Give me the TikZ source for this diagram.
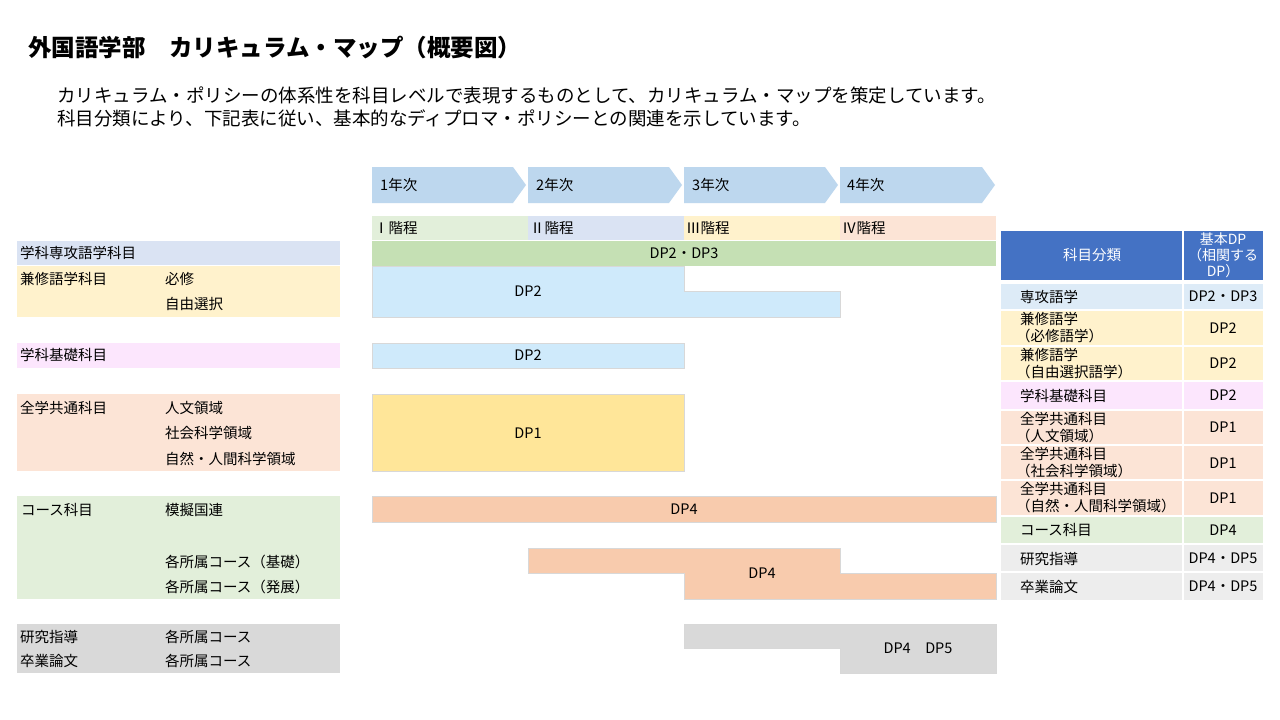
\documentclass[tikz,border=0pt]{standalone}
\usepackage{fontspec}
\setmainfont{Noto Sans CJK JP}
\newcommand\myfs[2]{\fontsize{#1}{#2}\selectfont}
\definecolor{yearblue}{HTML}{BDD7EE}
\definecolor{stI}{HTML}{E2EFDA}
\definecolor{stII}{HTML}{DAE3F3}
\definecolor{stIII}{HTML}{FFF2CC}
\definecolor{stIV}{HTML}{FCE4D6}
\definecolor{dpgreen}{HTML}{C5E0B4}
\definecolor{pinkrow}{HTML}{FCE6FD}
\definecolor{grayrow}{HTML}{D9D9D9}
\definecolor{dpblue}{HTML}{CFEAFB}
\definecolor{dpyellow}{HTML}{FFE699}
\definecolor{dporange}{HTML}{F8CBAD}
\definecolor{hdrblue}{HTML}{4472C4}
\definecolor{rowblue}{HTML}{DDEBF7}
\definecolor{rowgray}{HTML}{EDEDED}
\definecolor{barline}{HTML}{D8D8D8}
\begin{document}
\begin{tikzpicture}[x=1pt,y=-1pt,
  txt/.style={inner sep=0pt, font=\myfs{14.5}{17}},
  lt/.style={txt, anchor=west},
  bar/.style={draw=barline, line width=0.6pt},
  cellb/.style={draw=white, line width=1.5pt},
  yeararrow/.style={fill=yearblue},
  ]
\useasboundingbox[fill=white] (0,0) rectangle (1280,720);

% title and description
\node[anchor=west, inner sep=0pt, font=\myfs{23.5}{28}\bfseries] (title) at (28,48) {外国語学部　カリキュラム・マップ（概要図）};
\node[anchor=west, inner sep=0pt, font=\myfs{18.5}{23}] (desc1) at (57,95) {カリキュラム・ポリシーの体系性を科目レベルで表現するものとして、カリキュラム・マップを策定しています。};
\node[anchor=west, inner sep=0pt, font=\myfs{18.5}{23}] (desc2) at (57,118) {科目分類により、下記表に従い、基本的なディプロマ・ポリシーとの関連を示しています。};

% year arrows
\fill[yeararrow] (372,167) -- (513,167) -- (526,185) -- (513,203) -- (372,203) -- cycle;
\fill[yeararrow] (528,167) -- (669,167) -- (682,185) -- (669,203) -- (528,203) -- cycle;
\fill[yeararrow] (684,167) -- (825,167) -- (838,185) -- (825,203) -- (684,203) -- cycle;
\fill[yeararrow] (840,167) -- (982,167) -- (995,185) -- (982,203) -- (840,203) -- cycle;
\node[lt] (y1) at (380,185) {1年次};
\node[lt] (y2) at (536,185) {2年次};
\node[lt] (y3) at (692,185) {3年次};
\node[lt] (y4) at (847,185) {4年次};

% stages
\fill[stI] (372,216) rectangle (528,240);
\fill[stII] (528,216) rectangle (684,240);
\fill[stIII] (684,216) rectangle (840,240);
\fill[stIV] (840,216) rectangle (996,240);
\node[lt] (s1) at (374,228) {Ⅰ階程};
\node[lt] (s2) at (530,228) {Ⅱ階程};
\node[lt] (s3) at (686,228) {Ⅲ階程};
\node[lt] (s4) at (842,228) {Ⅳ階程};

% left table
\fill[stII] (17,241) rectangle (340,265);
\node[lt] (l1) at (20,253) {学科専攻語学科目};
\fill[stIII] (17,266) rectangle (340,317);
\node[lt] (l2) at (20,279) {兼修語学科目};
\node[lt] (l2a) at (165,279) {必修};
\node[lt] (l2b) at (165,304) {自由選択};
\fill[pinkrow] (17,343) rectangle (340,368);
\node[lt] (l3) at (20,355) {学科基礎科目};
\fill[stIV] (17,394) rectangle (340,471);
\node[lt] (l4) at (20,408) {全学共通科目};
\node[lt] (l4a) at (165,408) {人文領域};
\node[lt] (l4b) at (165,433) {社会科学領域};
\node[lt] (l4c) at (165,459) {自然・人間科学領域};
\fill[stI] (17,496) rectangle (340,599);
\node[lt] (l5) at (21,510) {コース科目};
\node[lt] (l5a) at (165,510) {模擬国連};
\node[lt] (l5b) at (165,562) {各所属コース（基礎）};
\node[lt] (l5c) at (165,587) {各所属コース（発展）};
\fill[grayrow] (17,624) rectangle (340,673);
\node[lt] (l6) at (20,637) {研究指導};
\node[lt] (l6a) at (165,637) {各所属コース};
\node[lt] (l7) at (20,661) {卒業論文};
\node[lt] (l7a) at (165,661) {各所属コース};

% middle bars
\filldraw[fill=dpgreen, draw=none] (372,241) rectangle (996,266);
\node[txt] (b1) at (684,253) {DP2・DP3};
\filldraw[bar, fill=dpblue] (372,266) -- (684,266) -- (684,291) -- (840,291) -- (840,317) -- (372,317) -- cycle;
\node[txt] (b2) at (528,291) {DP2};
\filldraw[bar, fill=dpblue] (372,343) rectangle (684,368);
\node[txt] (b3) at (528,355) {DP2};
\filldraw[bar, fill=dpyellow] (372,394) rectangle (684,471);
\node[txt] (b4) at (528,433) {DP1};
\filldraw[bar, fill=dporange] (372,496) rectangle (996,522);
\node[txt] (b5) at (684,509) {DP4};
\filldraw[bar, fill=dporange] (528,548) -- (840,548) -- (840,573) -- (996,573) -- (996,599) -- (684,599) -- (684,573) -- (528,573) -- cycle;
\node[txt] (b6) at (762,573) {DP4};
\filldraw[bar, fill=grayrow] (684,624) -- (996,624) -- (996,673) -- (840,673) -- (840,648) -- (684,648) -- cycle;
\node[txt] (b7) at (918,648) {DP4　DP5};

% right table
\filldraw[cellb, fill=hdrblue] (1000,230) rectangle (1183,281);
\filldraw[cellb, fill=hdrblue] (1183,230) rectangle (1264,281);
\node[txt, text=white] (h1) at (1092,255) {科目分類};
\node[txt, text=white, align=center, font=\myfs{14}{16}] (h2) at (1223,255) {基本DP\\（相関する\\DP）};

\filldraw[cellb, fill=rowblue] (1000,283) rectangle (1183,310);
\filldraw[cellb, fill=rowblue] (1183,283) rectangle (1264,310);
\node[lt] (r1) at (1020,296.5) {専攻語学};
\node[txt] (r1d) at (1223,296.5) {DP2・DP3};

\filldraw[cellb, fill=stIII] (1000,310) rectangle (1183,346);
\filldraw[cellb, fill=stIII] (1183,310) rectangle (1264,346);
\node[lt, align=left] (r2) at (1016,328) {\hspace*{4pt}兼修語学\\（必修語学）};
\node[txt] (r2d) at (1223,328) {DP2};

\filldraw[cellb, fill=stIII] (1000,346) rectangle (1183,381);
\filldraw[cellb, fill=stIII] (1183,346) rectangle (1264,381);
\node[lt, align=left] (r3) at (1016,363.5) {\hspace*{4pt}兼修語学\\（自由選択語学）};
\node[txt] (r3d) at (1223,363.5) {DP2};

\filldraw[cellb, fill=pinkrow] (1000,381) rectangle (1183,410);
\filldraw[cellb, fill=pinkrow] (1183,381) rectangle (1264,410);
\node[lt] (r4) at (1020,395.5) {学科基礎科目};
\node[txt] (r4d) at (1223,395.5) {DP2};

\filldraw[cellb, fill=stIV] (1000,410) rectangle (1183,445);
\filldraw[cellb, fill=stIV] (1183,410) rectangle (1264,445);
\node[lt, align=left] (r5) at (1016,427.5) {\hspace*{4pt}全学共通科目\\（人文領域）};
\node[txt] (r5d) at (1223,427.5) {DP1};

\filldraw[cellb, fill=stIV] (1000,445) rectangle (1183,480);
\filldraw[cellb, fill=stIV] (1183,445) rectangle (1264,480);
\node[lt, align=left] (r6) at (1016,463) {\hspace*{4pt}全学共通科目\\（社会科学領域）};
\node[txt] (r6d) at (1223,463) {DP1};

\filldraw[cellb, fill=stIV] (1000,480) rectangle (1183,516);
\filldraw[cellb, fill=stIV] (1183,480) rectangle (1264,516);
\node[lt, align=left] (r7) at (1016,498) {\hspace*{4pt}全学共通科目\\（自然・人間科学領域）};
\node[txt] (r7d) at (1223,498) {DP1};

\filldraw[cellb, fill=stI] (1000,516) rectangle (1183,544);
\filldraw[cellb, fill=stI] (1183,516) rectangle (1264,544);
\node[lt] (r8) at (1020,530) {コース科目};
\node[txt] (r8d) at (1223,530) {DP4};

\filldraw[cellb, fill=rowgray] (1000,544) rectangle (1183,572);
\filldraw[cellb, fill=rowgray] (1183,544) rectangle (1264,572);
\node[lt] (r9) at (1020,558.5) {研究指導};
\node[txt] (r9d) at (1223,558.5) {DP4・DP5};

\filldraw[cellb, fill=rowgray] (1000,572) rectangle (1183,601);
\filldraw[cellb, fill=rowgray] (1183,572) rectangle (1264,601);
\node[lt] (r10) at (1020,586.5) {卒業論文};
\node[txt] (r10d) at (1223,586.5) {DP4・DP5};
\end{tikzpicture}
\end{document}
